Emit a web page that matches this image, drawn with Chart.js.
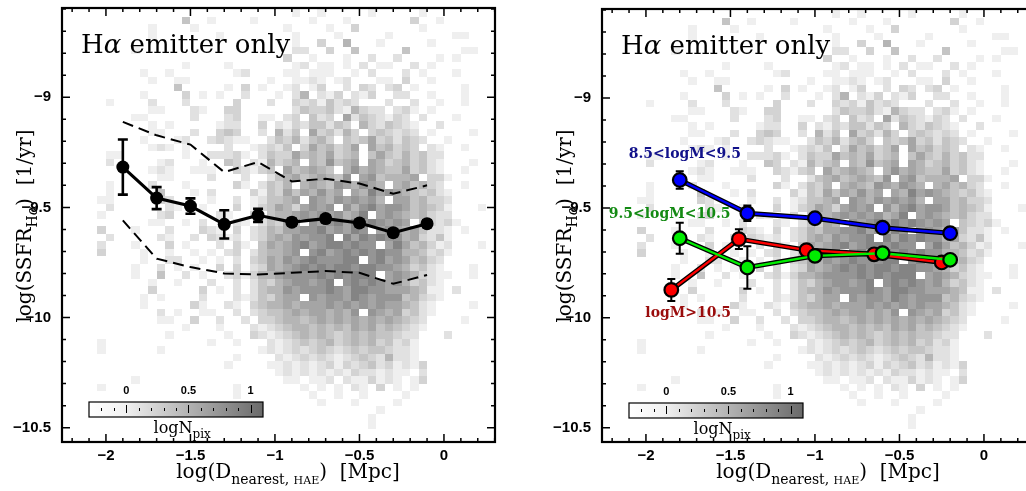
<!DOCTYPE html>
<html><head><meta charset="utf-8">
<script src="https://cdn.jsdelivr.net/npm/chart.js@4.4.0/dist/chart.umd.min.js"></script>
<style>
html,body{margin:0;padding:0;background:#fff;overflow:hidden;width:1026px;height:491px;position:relative;}
#c1{position:absolute;left:0;top:0;width:510px;height:491px;}
#c2{position:absolute;left:540px;top:0;width:510px;height:491px;}
</style></head><body>
<canvas id="c1" width="510" height="491"></canvas>
<canvas id="c2" width="510" height="491"></canvas>
<script>
// ---------- data ----------
const histX0 = -2.25, histDX = 0.05, histY0 = -8.6, histDY = 0.034;
const histRows = [
"0000000000 0000000000 0000000100 1000001000 0010000000 0",
"0000000000 0000400100 0010000001 0001000000 0300100000 0",
"0000000000 1000010000 0000001000 0100300000 0010000000 0",
"0000000000 1000000010 0000000100 0010000010 0000001100 0",
"0000000000 0000000000 0000000100 3005000100 0001000000 0",
"0000000010 0000000000 0000000220 0300400000 4000000110 0",
"0000000000 0000000000 0000003001 0001002002 0000101000 0",
"0000000000 0000100001 0000000120 1101020110 0201000000 0",
"0000000001 0010000000 1200001101 1100102000 2010001000 0",
"0000000000 1001100000 0000100112 1012000110 3001000000 0",
"0000000000 0004000001 0301001201 3002032023 0100000100 0",
"0000000001 0000301010 0200010250 2130213002 2001000100 0",
"0000010000 2000200000 3000200323 1423200020 0200100100 0",
"0000000000 1100021003 3000000243 3421532202 3101000000 0",
"0000000011 0000020002 3001102304 2306243213 2020001000 0",
"0000000000 1010000012 2003021324 4243053243 2100200000 0",
"0000000000 1100020034 3002052406 3425303432 3201000010 0",
"0000000001 0001200232 1100243524 5304346342 4320010000 0",
"0000000000 1210100002 0012324036 4534606453 4302100100 0",
"0000011000 0000100222 3102433645 4634504643 5342200000 0",
"0000020000 0120001004 3021534505 4745606534 5342100010 0",
"0000000000 1210011100 3213406456 5405756544 6342100100 0",
"0000000000 0110000200 0200245645 6547067455 5603310000 0",
"0000010000 2000100000 3102435056 5476576505 6453200100 0",
"0000010000 0400010200 0031436465 7560658676 5434210000 0",
"0000110000 0320000100 2012445607 6576767506 6453320000 0",
"0000020000 0021001000 3013465367 6707578677 6454310001 0",
"0000100000 0230000021 0030455676 7675680676 5453220000 0",
"0000000000 1100102000 2102436507 6786878767 6043231000 0",
"0000300010 0020003210 3023546677 8676870676 5642210100 0",
"0000020000 0210020321 2023565767 7808687877 5632410000 0",
"0000200010 0030100020 3104656786 7887877068 6453120001 0",
"0000300001 0010010102 3024556707 8678787877 5542310000 0",
"0000000001 0022001010 2034657678 7778807867 6453200000 0",
"0000000010 0201010030 3023656787 8788788776 5342100010 0",
"0000000010 0400201002 3135567777 8787888067 6532110010 0",
"0000000000 1001000200 2024356776 7807878767 5342100000 0",
"0000000000 3000003010 2024557677 7876887766 6541102000 0",
"0000000001 0100002000 2124356607 6776876777 4532100000 0",
"0000000001 0000031002 1034556566 6767676766 5421000010 0",
"0000000000 0201001100 2023445656 6565707656 3421000000 0",
"0000000000 0110030020 0203345545 6565656565 4320000100 0",
"0000000000 0000100010 0021234554 5454656454 3210000000 0",
"0000000000 0010000001 0032123454 5434545443 2200020000 0",
"0000100000 0000000100 1000212343 4534545342 3100000000 0",
"0000100000 0100000000 0001212323 4323434432 2100000000 0",
"0000000000 0000000000 1000021232 3212343252 2100000000 0",
"0000000000 0000000001 0000112121 2313234231 2130000000 0",
"0000000000 0000000000 0000012121 2121322121 1020000000 0",
"0000000010 0000000000 0000001101 1202113121 0130000000 0",
"0000100000 0000000000 1000000010 1010210301 0100000000 0",
"0000000000 0000000000 1000000001 0010010000 1000000000 0",
"0000000000 0000000000 0000000000 1000100001 0000000000 0",
"0000000000 0000000000 1000000000 0000000100 0000000000 0",
"0000000000 0000000000 0000000000 0000001000 0000000000 0",
"0000000000 0000000000 0000000000 0000001000 0000000000 0",
"0000000000 0000000000 0000000000 0000000000 0000000000 0"
];

const xTickLabels = [-2, -1.5, -1, -0.5, 0];
const yTickLabels = [-10.5, -10, -9.5, -9];
const cbarTickLabels = [0, 0.5, 1];

// left panel
const distX = [-1.9, -1.7, -1.5, -1.3, -1.1, -0.9, -0.7, -0.5, -0.3, -0.1];
const ssfrMedian = [-9.317, -9.458, -9.494, -9.577, -9.536, -9.567, -9.551, -9.571, -9.615, -9.574];
const ssfrErr = [0.125, 0.05, 0.035, 0.064, 0.03, 0.015, 0.015, 0.015, 0.015, 0.015];
const ssfrUpper = [-9.112, -9.173, -9.215, -9.34, -9.294, -9.382, -9.37, -9.392, -9.438, -9.40];
const ssfrLower = [-9.559, -9.733, -9.771, -9.80, -9.805, -9.797, -9.789, -9.797, -9.847, -9.807];

// right panel (mass bins)
const lowMassX = [-1.8, -1.4, -1.0, -0.6, -0.2];
const lowMassY = [-9.373, -9.524, -9.547, -9.59, -9.615];
const lowMassErr = [0.04, 0.035, 0.01, 0.01, 0.01];
const midMassX = [-1.8, -1.4, -1.0, -0.6, -0.2];
const midMassY = [-9.638, -9.771, -9.718, -9.706, -9.736];
const midMassErr = [0.07, 0.097, 0.015, 0.015, 0.015];
const highMassX = [-1.85, -1.45, -1.05, -0.65, -0.25];
const highMassY = [-9.873, -9.642, -9.692, -9.711, -9.748];
const highMassErr = [0.05, 0.045, 0.015, 0.015, 0.015];
const massLabels = ["8.5<logM<9.5", "9.5<logM<10.5", "logM>10.5"];

// ---------- helpers ----------
const pts = (xs, ys) => xs.map((x, i) => ({x, y: ys[i]}));
const fmt = v => (v < 0 ? '\u2212' : '') + Math.abs(v);
const grayLevels = ['#ffffff', '#efefef', '#e1e1e1', '#d3d3d3', '#c4c4c4', '#b5b5b5', '#a5a5a5', '#959595', '#848484'];
const SERIF = '"DejaVu Serif", serif';
const SANS = '"Liberation Sans", Arial, sans-serif';

const histPlugin = {
  id: 'hist',
  beforeDatasetsDraw(chart){
    const {ctx, chartArea: a, scales: {x, y}} = chart;
    ctx.save();
    ctx.beginPath(); ctx.rect(a.left, a.top, a.right - a.left, a.bottom - a.top); ctx.clip();
    histRows.forEach((row, j) => {
      const r = row.replace(/ /g, '');
      for (let i = 0; i < r.length; i++) {
        const L = +r[i]; if (!L) continue;
        const x0 = Math.round(x.getPixelForValue(histX0 + i * histDX));
        const x1 = Math.round(x.getPixelForValue(histX0 + (i + 1) * histDX));
        const y0 = Math.round(y.getPixelForValue(histY0 - j * histDY));
        const y1 = Math.round(y.getPixelForValue(histY0 - (j + 1) * histDY));
        ctx.fillStyle = grayLevels[L];
        ctx.fillRect(x0, y0, x1 - x0, y1 - y0);
      }
    });
    ctx.restore();
  }
};

const colorbarPlugin = {
  id: 'cbar',
  beforeDatasetsDraw(chart){
    const {ctx, chartArea: a} = chart;
    const L = a.left + 27, T = a.top + 394, W = 174, H = 15;
    const vmin = -0.3, vmax = 1.1;
    const px = v => L + (v - vmin) / (vmax - vmin) * W;
    ctx.save();
    const g = ctx.createLinearGradient(L, 0, L + W, 0);
    g.addColorStop(0, '#ffffff'); g.addColorStop(0.2, '#f2f2f2'); g.addColorStop(1, '#6a6a6a');
    ctx.fillStyle = g; ctx.fillRect(L, T, W, H);
    ctx.strokeStyle = '#000'; ctx.lineWidth = 1.2; ctx.strokeRect(L, T, W, H);
    ctx.lineWidth = 1;
    for (let k = -2; k <= 10; k++) {
      const v = k / 10, xx = Math.round(px(v)) + 0.5, major = (k % 5 === 0);
      ctx.beginPath();
      ctx.moveTo(xx, T + (major ? 3 : 6)); ctx.lineTo(xx, T + (major ? 11 : 9)); ctx.stroke();
    }
    ctx.fillStyle = '#000'; ctx.font = 'bold 11px ' + SANS; ctx.textAlign = 'center'; ctx.textBaseline = 'middle';
    cbarTickLabels.forEach(v => ctx.fillText(String(v), px(v), T - 11));
    ctx.textBaseline = 'alphabetic'; ctx.textAlign = 'left';
    ctx.font = '16px ' + SERIF;
    const w1 = ctx.measureText('logN').width;
    ctx.font = '12px ' + SERIF;
    const w2 = ctx.measureText('pix').width;
    const sx = px(0.45) - (w1 + w2) / 2;
    ctx.font = '16px ' + SERIF; ctx.fillText('logN', sx, T + 31);
    ctx.font = '12px ' + SERIF; ctx.fillText('pix', sx + w1, T + 36);
    ctx.restore();
  }
};

const errPlugin = {
  id: 'errbars',
  beforeDatasetsDraw(chart){
    const {ctx, scales: {x, y}} = chart;
    ctx.save();
    chart.data.datasets.forEach(ds => {
      if (!ds.errors) return;
      ctx.strokeStyle = '#000'; ctx.lineWidth = ds.errWidth || 2;
      const cap = ds.capHalf || 4;
      ds.data.forEach((p, k) => {
        const e = ds.errors[k];
        const xx = x.getPixelForValue(p.x), yt = y.getPixelForValue(p.y + e), yb = y.getPixelForValue(p.y - e);
        ctx.beginPath();
        ctx.moveTo(xx, yt); ctx.lineTo(xx, yb);
        ctx.moveTo(xx - cap, yt); ctx.lineTo(xx + cap, yt);
        ctx.moveTo(xx - cap, yb); ctx.lineTo(xx + cap, yb);
        ctx.stroke();
      });
    });
    ctx.restore();
  }
};

const framePlugin = {
  id: 'frame',
  afterDatasetsDraw(chart){
    const {ctx, chartArea: a, scales: {x, y}} = chart;
    ctx.save();
    ctx.strokeStyle = '#000'; ctx.lineWidth = 1.5;
    for (let k = -22; k <= 3; k++) {
      const xx = x.getPixelForValue(k / 10); if (xx < a.left || xx > a.right) continue;
      const len = (k % 5 === 0) ? 8 : 4;
      ctx.beginPath();
      ctx.moveTo(xx, a.bottom); ctx.lineTo(xx, a.bottom - len);
      ctx.moveTo(xx, a.top); ctx.lineTo(xx, a.top + len);
      ctx.stroke();
    }
    for (let k = -105; k <= -86; k++) {
      const yy = y.getPixelForValue(k / 10); if (yy < a.top || yy > a.bottom) continue;
      const len = (k % 5 === 0) ? 8 : 4;
      ctx.beginPath();
      ctx.moveTo(a.left, yy); ctx.lineTo(a.left + len, yy);
      ctx.moveTo(a.right, yy); ctx.lineTo(a.right - len, yy);
      ctx.stroke();
    }
    ctx.lineWidth = 2.2;
    ctx.strokeRect(a.left, a.top, a.right - a.left, a.bottom - a.top);
    ctx.restore();
  }
};

function drawPieces(ctx, pieces, x, y){
  let total = 0;
  pieces.forEach(p => { ctx.font = p[1]; p.w = ctx.measureText(p[0]).width; total += p.w; });
  let cx = x - total / 2;
  pieces.forEach(p => { ctx.font = p[1]; ctx.fillText(p[0], cx, y + p[2]); cx += p.w; });
}

const textPlugin = {
  id: 'texts',
  afterDraw(chart){
    const {ctx, chartArea: a, scales: {x, y}} = chart;
    ctx.save();
    ctx.fillStyle = '#000'; ctx.textAlign = 'left'; ctx.textBaseline = 'alphabetic';
    const tx = a.left + 19, ty = a.top + 45;
    ctx.font = '26px ' + SERIF; ctx.fillText('H', tx, ty);
    let w = ctx.measureText('H').width;
    ctx.font = 'italic 26px ' + SERIF; ctx.fillText('\u03b1', tx + w, ty);
    w += ctx.measureText('\u03b1').width;
    ctx.font = '26px ' + SERIF; ctx.fillText(' emitter only', tx + w, ty);
    drawPieces(ctx, [['log(D', '20px ' + SERIF, 0], ['nearest, ', '14px ' + SERIF, 6], ['HAE', '11px ' + SERIF, 6], [')  [Mpc]', '20px ' + SERIF, 0]], a.left + 226, 478);
    ctx.translate(a.left - 31, 226);
    ctx.rotate(-Math.PI / 2);
    drawPieces(ctx, [['log(SSFR', '20px ' + SERIF, 0], ['H', '14px ' + SERIF, 6], ['\u03b1', 'italic 14px ' + SERIF, 6], [')  [1/yr]', '20px ' + SERIF, 0]], 0, 0);
    ctx.restore();
    const lab = chart.options.plugins.massLabels;
    if (lab) {
      ctx.save();
      ctx.font = 'bold 14px ' + SERIF; ctx.textAlign = 'center'; ctx.textBaseline = 'middle';
      lab.forEach(l => { ctx.fillStyle = l.color; ctx.fillText(l.text, x.getPixelForValue(l.x), y.getPixelForValue(l.y)); });
      ctx.restore();
    }
  }
};

function makeChart(id, datasets, massLab){
  return new Chart(document.getElementById(id), {
    type: 'scatter',
    data: {datasets},
    options: {
      responsive: false, animation: false, events: [],
      layout: {padding: {left: 0, top: 8, right: 15, bottom: 0}},
      plugins: {legend: {display: false}, tooltip: {enabled: false}, massLabels: massLab},
      scales: {
        x: {
          type: 'linear', min: -2.26, max: 0.302,
          afterBuildTicks: s => { s.ticks = xTickLabels.map(v => ({value: v})); },
          afterFit: s => { s.height = 49; s.paddingLeft = 0; s.paddingRight = 0; },
          grid: {display: false, drawTicks: false}, border: {display: false},
          ticks: {callback: v => fmt(v), font: {family: 'Liberation Sans', weight: 'bold', size: 15}, color: '#000', padding: 5, maxRotation: 0, autoSkip: false}
        },
        y: {
          type: 'linear', min: -10.565, max: -8.595,
          afterBuildTicks: s => { s.ticks = yTickLabels.map(v => ({value: v})); },
          afterFit: s => { s.width = 62; s.paddingTop = 0; s.paddingBottom = 0; },
          grid: {display: false, drawTicks: false}, border: {display: false},
          ticks: {callback: v => fmt(v), font: {family: 'Liberation Sans', weight: 'bold', size: 15}, color: '#000', padding: 11, autoSkip: false}
        }
      }
    },
    plugins: [histPlugin, colorbarPlugin, errPlugin, framePlugin, textPlugin]
  });
}

makeChart('c1', [
  {data: pts(distX, ssfrMedian), showLine: true, borderColor: '#000', borderWidth: 3.2, pointRadius: 6.5,
   pointBackgroundColor: '#000', pointBorderColor: '#000', pointBorderWidth: 0, errors: ssfrErr, errWidth: 2.6, capHalf: 5, order: 1},
  {data: pts(distX, ssfrUpper), showLine: true, borderColor: '#000', borderWidth: 2, borderDash: [11, 6], pointRadius: 0, order: 2},
  {data: pts(distX, ssfrLower), showLine: true, borderColor: '#000', borderWidth: 2, borderDash: [11, 6], pointRadius: 0, order: 3}
]);

const outline = (xs, ys) => ({data: pts(xs, ys), showLine: true, borderColor: '#000', borderWidth: 5, pointRadius: 0, order: 20});
const colored = (xs, ys, errs, col, ord) => ({data: pts(xs, ys), showLine: true, borderColor: col, borderWidth: 2.4,
  pointRadius: 6.8, pointBackgroundColor: col, pointBorderColor: '#000', pointBorderWidth: 2.2, errors: errs, errWidth: 2, capHalf: 4, order: ord});

makeChart('c2', [
  outline(highMassX, highMassY), outline(midMassX, midMassY), outline(lowMassX, lowMassY),
  colored(highMassX, highMassY, highMassErr, '#ff0000', 3),
  colored(midMassX, midMassY, midMassErr, '#00ee00', 2),
  colored(lowMassX, lowMassY, lowMassErr, '#0000ff', 1)
], [
  {text: massLabels[0], color: '#11118a', x: -1.77, y: -9.255},
  {text: massLabels[1], color: '#138a13', x: -1.86, y: -9.528},
  {text: massLabels[2], color: '#9a0c0c', x: -1.75, y: -9.978}
]);
</script>
</body></html>
